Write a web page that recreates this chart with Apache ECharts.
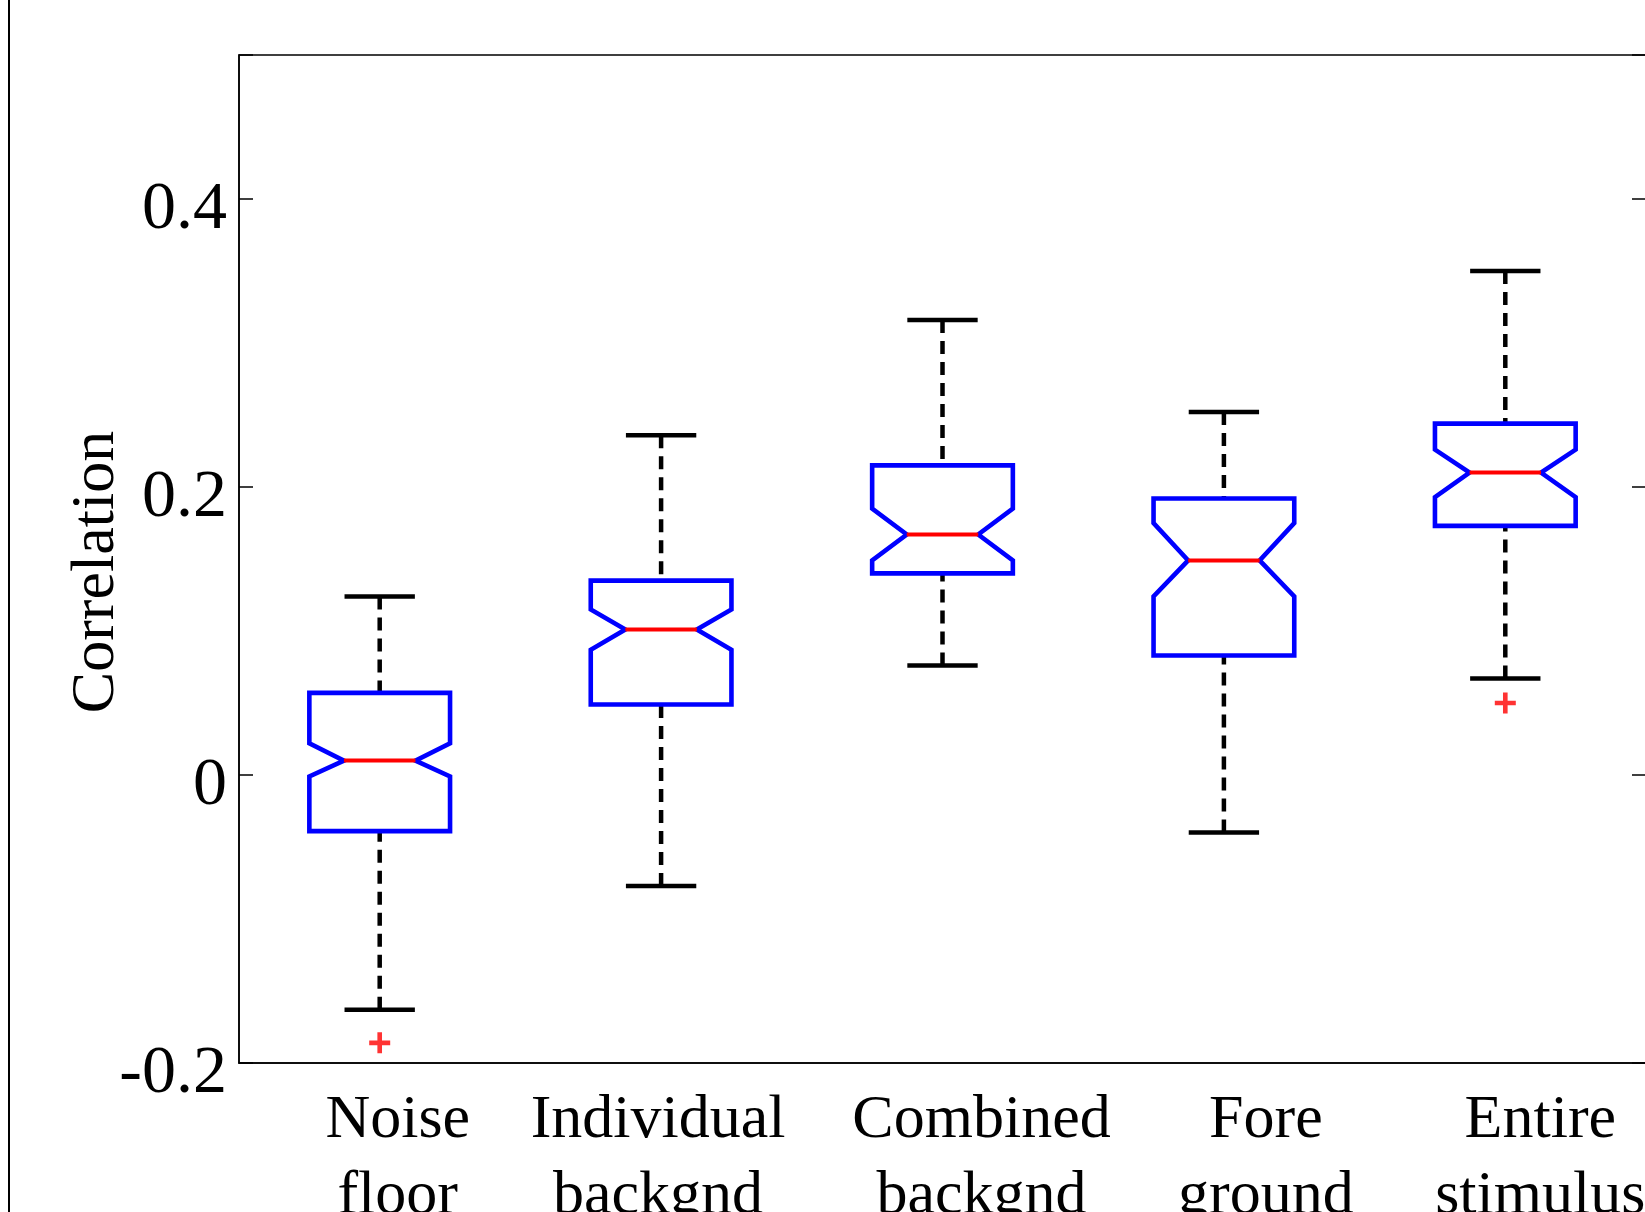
<!DOCTYPE html>
<html>
<head>
<meta charset="utf-8">
<style>
  html, body { margin: 0; padding: 0; background: #fff; }
  #chart { width: 1645px; height: 1212px; }
</style>
<script src="https://cdn.jsdelivr.net/npm/echarts@6/dist/echarts.min.js"></script>
</head>
<body>
<div id="chart"></div>
<script>
// ---- data ----
const categories = ['Noise\nfloor', 'Individual\nbackgnd', 'Combined\nbackgnd', 'Fore\nground', 'Entire\nstimulus'];
const lowerWhisker = [-0.163, -0.077, 0.076, -0.040, 0.067];
const q1Values     = [-0.039,  0.049, 0.140,  0.083, 0.173];
const notchLow     = [-0.001,  0.087, 0.149,  0.124, 0.193];
const medians      = [ 0.010,  0.101, 0.167,  0.149, 0.210];
const notchHigh    = [ 0.022,  0.115, 0.185,  0.175, 0.226];
const q3Values     = [ 0.057,  0.135, 0.215,  0.192, 0.244];
const upperWhisker = [ 0.124,  0.236, 0.316,  0.252, 0.350];
const outliers     = [[0, -0.186], [4, 0.050]];
const yMin = -0.2, yMax = 0.5, yInterval = 0.2;
const yAxisName = 'Correlation';

// ---- build chart ----
const FONT = 'Liberation Serif';
const boxRows = categories.map((c, i) => [i, lowerWhisker[i], q1Values[i], notchLow[i], medians[i], notchHigh[i], q3Values[i], upperWhisker[i]]);

// horizontal shift (px) of each category label relative to its box centre
const labelShift = [18, -3, 39, 42, 35];
const rich = {};
labelShift.forEach((s, i) => {
  rich['s' + i] = {
    fontFamily: FONT, fontSize: 62, lineHeight: 76, color: '#000',
    padding: s >= 0 ? [0, 0, 0, 2 * s] : [0, -2 * s, 0, 0]
  };
});

function renderBox(params, api) {
  const i = api.value(0);
  const band = api.size([1, 0])[0];
  const hw = band * 0.25, hn = band * 0.127, hc = band * 0.125;
  const p = k => api.coord([i, api.value(k)]);
  const wl = p(1), q1 = p(2), nl = p(3), md = p(4), nh = p(5), q3 = p(6), wh = p(7);
  const x = md[0];
  const dash = { stroke: '#000', lineWidth: 4.5, lineDash: [13, 8] };
  const solid = { stroke: '#000', lineWidth: 4.5 };
  return {
    type: 'group',
    children: [
      { type: 'line', shape: { x1: x, y1: wh[1], x2: x, y2: q3[1] }, style: dash },
      { type: 'line', shape: { x1: x, y1: wl[1], x2: x, y2: q1[1] }, style: dash },
      { type: 'line', shape: { x1: x - hc, y1: wh[1], x2: x + hc, y2: wh[1] }, style: solid },
      { type: 'line', shape: { x1: x - hc, y1: wl[1], x2: x + hc, y2: wl[1] }, style: solid },
      { type: 'polygon', shape: { points: [
          [x - hw, q3[1]], [x + hw, q3[1]], [x + hw, nh[1]], [x + hn, md[1]], [x + hw, nl[1]],
          [x + hw, q1[1]], [x - hw, q1[1]], [x - hw, nl[1]], [x - hn, md[1]], [x - hw, nh[1]]
        ] }, style: { fill: 'none', stroke: '#0000ff', lineWidth: 4.6, lineJoin: 'miter' } },
      { type: 'line', shape: { x1: x - hn, y1: md[1], x2: x + hn, y2: md[1] }, style: { stroke: '#ff0000', lineWidth: 4 } }
    ]
  };
}

const chart = echarts.init(document.getElementById('chart'), null, { renderer: 'canvas' });
const yLabel = v => (Math.abs(v - yMax) < 1e-9 ? '' : '{t|' + String(Math.round(v * 10) / 10) + '}');
chart.setOption({
  animation: false,
  backgroundColor: '#fff',
  grid: { left: 239, top: 55, width: 1407, height: 1008, show: true, borderColor: '#000', borderWidth: 1.5,
          backgroundColor: 'transparent', containLabel: false, outerBoundsMode: 'none' },
  xAxis: {
    type: 'category',
    data: categories,
    boundaryGap: true,
    axisLine: { onZero: false, lineStyle: { color: '#000', width: 1.5 } },
    axisTick: { show: false },
    splitLine: { show: false },
    axisLabel: {
      interval: 0, margin: 20,
      fontFamily: FONT, fontSize: 62, lineHeight: 76, color: '#000',
      formatter: (v, i) => '{s' + i + '|' + v + '}',
      rich: rich
    }
  },
  yAxis: [{
    type: 'value', min: yMin, max: yMax, interval: yInterval,
    name: yAxisName, nameLocation: 'middle', nameGap: 111, nameMoveOverlap: false,
    nameTextStyle: { fontFamily: FONT, fontSize: 62, color: '#000', padding: [0, 26, 0, 0] },
    axisLine: { show: true, onZero: false, lineStyle: { color: '#000', width: 1.5 } },
    axisTick: { show: true, inside: true, length: 14, lineStyle: { color: '#000', width: 1.5 } },
    splitLine: { show: false },
    axisLabel: { margin: 12, fontFamily: FONT, fontSize: 68, color: '#000', formatter: yLabel,
                 rich: { t: { fontFamily: FONT, fontSize: 68, color: '#000', padding: [22, 0, 0, 0] } } }
  }, {
    type: 'value', min: yMin, max: yMax, interval: yInterval, position: 'right',
    axisLine: { show: true, onZero: false, lineStyle: { color: '#000', width: 1.5 } },
    axisTick: { show: true, inside: true, length: 14, lineStyle: { color: '#000', width: 1.5 } },
    splitLine: { show: false },
    axisLabel: { show: false }
  }],
  graphic: [{ type: 'line', shape: { x1: 9, y1: 0, x2: 9, y2: 1212 }, style: { stroke: '#000', lineWidth: 2 } }],
  series: [{
    type: 'custom',
    renderItem: renderBox,
    encode: { x: 0, y: [1, 2, 3, 4, 5, 6, 7] },
    data: boxRows,
    z: 3
  }, {
    type: 'scatter',
    data: outliers,
    symbol: 'path://M0,3.9H10V6.1H0Z M3.9,0H6.1V10H3.9Z',
    symbolSize: 21,
    itemStyle: { color: '#ff0000' },
    z: 4
  }]
});
</script>
</body>
</html>
